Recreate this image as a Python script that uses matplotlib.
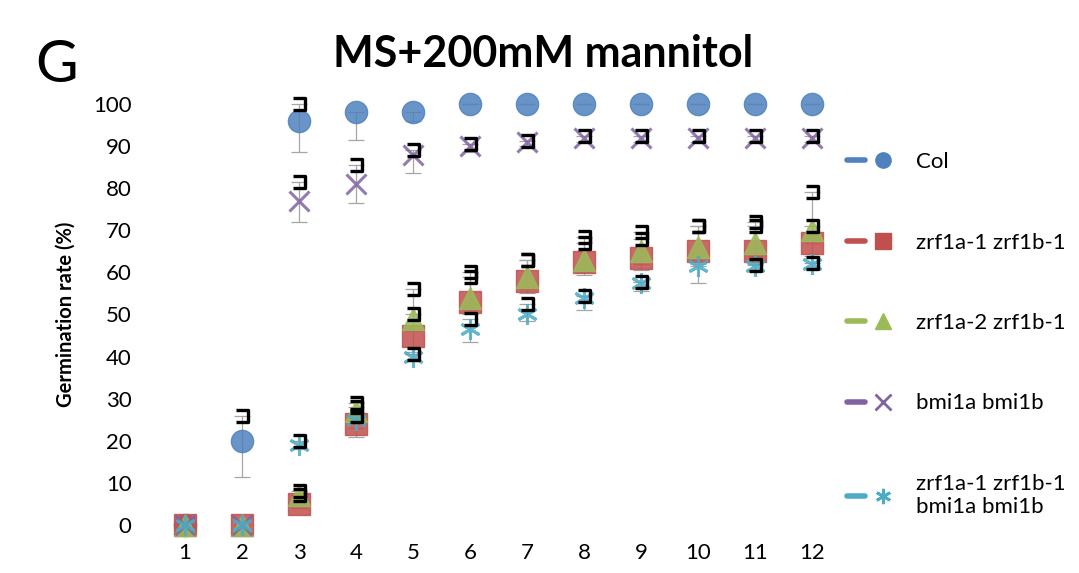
import matplotlib
matplotlib.use("Agg")
import matplotlib.pyplot as plt
import numpy as np
from matplotlib.lines import Line2D
from matplotlib.path import Path
from matplotlib.legend_handler import HandlerTuple

plt.rcParams["font.family"] = ["Lato", "DejaVu Sans"]

# days after sowing
days = np.arange(1, 13)

series = ["Col", "zrf1a-1 zrf1b-1", "zrf1a-2 zrf1b-1", "bmi1a bmi1b",
          "zrf1a-1 zrf1b-1\nbmi1a bmi1b"]

col_vals = [0, 20, 96, 98, 98, 100, 100, 100, 100, 100, 100, 100]
col_lo = [0, 8.5, 7.5, 6.5, 2, 0, 0, 0, 0, 0, 0, 0]
col_hi = [0, 6, 4, 0, 0, 0, 0, 0, 0, 0, 0, 0]

z1_vals = [0, 0, 5, 24, 45, 53, 58, 62.5, 63.5, 65, 65, 67]
z1_lo = [0, 0, 1, 3, 4, 3, 3, 3, 3, 3, 3, 3]
z1_hi = [0, 0, 2, 4, 11, 7, 5, 6, 6, 6, 7, 12]

z2_vals = [0, 0, 7, 27, 49, 54, 59, 63, 65, 66, 67, 70]
z2_lo = [0, 0, 1, 3, 3, 3, 3, 3, 3, 3, 3, 3]
z2_hi = [0, 0, 1, 2, 1, 5, 4, 4, 3, 5, 4, 1]

bmi_vals = [0, 0, 77, 81, 88, 90, 91, 92, 92, 92, 92, 92]
bmi_lo = [0, 0, 5, 4.5, 4.5, 1.5, 1, 1, 1, 1, 1, 1]
bmi_hi = [0, 0, 4.5, 4.5, 1, 0.5, 0.3, 0.3, 0.3, 0.3, 0.3, 0.3]

zb_vals = [0, 0, 19, 25, 40, 46.5, 50, 54, 57.5, 61.5, 61.5, 62]
zb_lo = [0, 0, 1, 2, 1, 3, 1.5, 3, 2, 4, 1, 1]
zb_hi = [0, 0, 1, 1, 0.5, 2.5, 2.5, 0.5, 0.3, 0, 0.3, 0.3]

yticks = np.arange(0, 101, 10)

colors = ["#4F81BD", "#C0504D", "#9BBB59", "#8064A2", "#4BACC6"]
markers = ["o", "s", "^", "x", (6, 2, 0)]
msizes = [16, 16, 16, 14, 15]
values = [col_vals, z1_vals, z2_vals, bmi_vals, zb_vals]
lows = [col_lo, z1_lo, z2_lo, bmi_lo, zb_lo]
highs = [col_hi, z1_hi, z2_hi, bmi_hi, zb_hi]

# bracket-shaped cap Excel left at the top of some error bars
cap_path = Path([(-1, 1), (1, 1), (1, -1), (-1, -1)],
                [Path.MOVETO, Path.LINETO, Path.LINETO, Path.LINETO])

fig = plt.figure(figsize=(10.79, 5.73), dpi=100)
ax = fig.add_axes([0.145, 0.0618, 0.634, 0.7787])

for vals, lo, hi, c, m, ms in zip(values, lows, highs, colors, markers, msizes):
    vals = np.array(vals, dtype=float)
    lo = np.array(lo, dtype=float)
    hi = np.array(hi, dtype=float)
    ax.errorbar(days, vals, yerr=[lo, hi], fmt="none", ecolor="#A6A6A6",
                elinewidth=0.9, capsize=6, capthick=0.9, zorder=1)
    mew = 2.2 if m == "x" or isinstance(m, tuple) else 1
    ax.plot(days, vals, linestyle="none", marker=m, markersize=ms, color=c,
            markeredgewidth=mew, alpha=0.85, zorder=3)
    top = hi > 0
    ax.plot(days[top], (vals + hi)[top], linestyle="none", marker=cap_path,
            markersize=9, markerfacecolor="none", markeredgecolor="black",
            markeredgewidth=2.4, zorder=4)

ax.set_xlim(0.5, 12.5)
ax.set_ylim(-3, 103)
ax.set_xticks(days)
ax.set_yticks(yticks)
ax.tick_params(length=0, labelsize=16)
ax.tick_params(axis="y", pad=18)
ax.tick_params(axis="x", pad=4)
for s in ax.spines.values():
    s.set_visible(False)

ax.set_ylabel("Germination rate (%)", fontsize=14.5, fontweight="bold", labelpad=12)
fig.text(0.503, 0.905, "MS+200mM mannitol", ha="center", va="center",
         fontsize=31, fontweight="bold")
fig.text(0.033, 0.885, "G", ha="left", va="center", fontsize=42)

handles = []
for c, m in zip(colors, markers):
    dash = Line2D([], [], color=c, linewidth=4, solid_capstyle="round")
    mk = Line2D([], [], linestyle="none", marker=m, color=c, markersize=11,
                markeredgewidth=2 if m == "x" or isinstance(m, tuple) else 1)
    handles.append((dash, mk))

ax.legend(handles, series, handler_map={tuple: HandlerTuple(ndivide=None, pad=0.4)},
          loc="upper left", bbox_to_anchor=(1.01, 0.864), frameon=False,
          borderaxespad=0, borderpad=0,
          fontsize=16, labelspacing=2.72, handlelength=2.0, handletextpad=1.1)

fig.savefig("out.png", dpi=100)
